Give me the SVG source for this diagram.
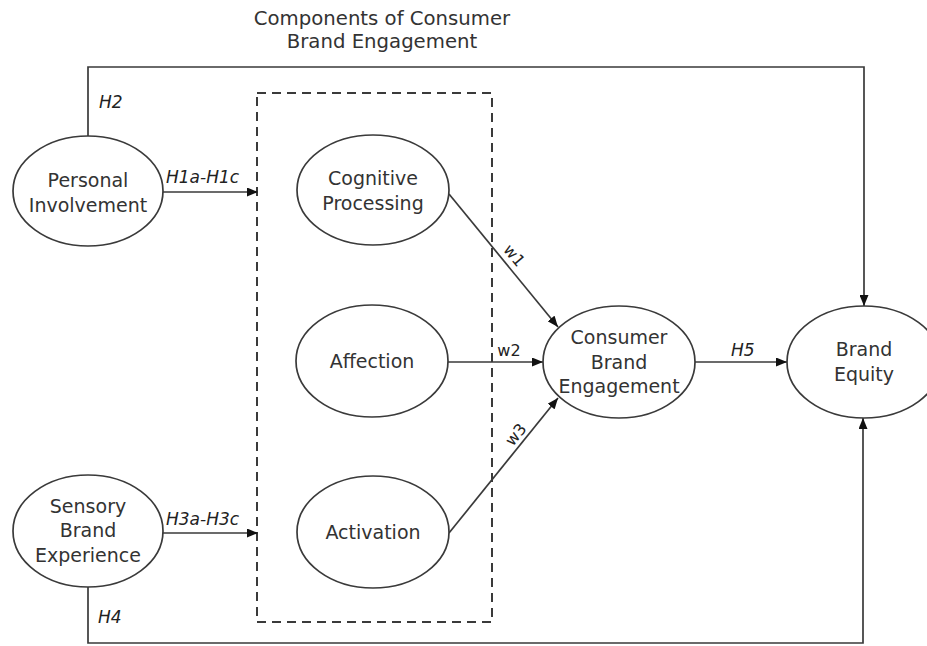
<svg xmlns="http://www.w3.org/2000/svg" width="927" height="646" viewBox="0 0 927 646">
<style>
.node ellipse{fill:#fff;stroke:#3a3a3a;stroke-width:1.7}
.node text,.title{font-family:"DejaVu Sans",Verdana,sans-serif;font-size:19px;fill:#333;text-anchor:middle}
.title{font-size:19.7px}
.conn{fill:none;stroke:#3a3a3a;stroke-width:1.7}
.lbl{font-family:"DejaVu Sans",sans-serif;font-size:17px;font-style:italic;fill:#222}
.w{font-family:"DejaVu Sans",sans-serif;font-size:16px;fill:#222;text-anchor:middle}
</style>
<defs>
<marker id="arr" markerUnits="userSpaceOnUse" markerWidth="11" markerHeight="9" refX="11" refY="4.5" orient="auto">
<path d="M0,0 L11,4.5 L0,9 z" fill="#111"/>
</marker>
</defs>
<rect width="927" height="646" fill="#fff"/>
<g id="title">
<text class="title" x="382" y="25">Components of Consumer</text>
<text class="title" x="382" y="48">Brand Engagement</text>
</g>
<g id="components-box">
<rect x="257" y="93" width="235" height="529" fill="none" stroke="#3a3a3a" stroke-width="2" stroke-dasharray="9,6"/>
</g>
<g id="connectors">
<path class="conn" d="M88,137 V67 H864 V306" marker-end="url(#arr)"/>
<path class="conn" d="M88,587 V643 H863 V418" marker-end="url(#arr)"/>
<path class="conn" d="M163,192 H258" marker-end="url(#arr)"/>
<path class="conn" d="M163,533 H258" marker-end="url(#arr)"/>
<path class="conn" d="M449,194 L558,327" marker-end="url(#arr)"/>
<path class="conn" d="M448,362 H543" marker-end="url(#arr)"/>
<path class="conn" d="M449,533 L558,398" marker-end="url(#arr)"/>
<path class="conn" d="M695,362 H787" marker-end="url(#arr)"/>
<text class="lbl" x="99" y="108">H2</text>
<text class="lbl" x="166" y="183">H1a-H1c</text>
<text class="lbl" x="166" y="525">H3a-H3c</text>
<text class="lbl" x="98" y="623">H4</text>
<text class="lbl" x="731" y="356">H5</text>
<text class="w" x="509" y="356">w2</text>
<text class="w" x="510" y="259" transform="rotate(50.5 510 259)">w1</text>
<text class="w" x="520" y="438" transform="rotate(-51 520 438)">w3</text>
</g>
<g id="personal-involvement" class="node">
<ellipse cx="88" cy="191" rx="75" ry="55"/>
<text x="88" y="187">Personal</text>
<text x="88" y="212">Involvement</text>
</g>
<g id="sensory-brand-experience" class="node">
<ellipse cx="88" cy="531" rx="75" ry="56"/>
<text x="88" y="513">Sensory</text>
<text x="88" y="537">Brand</text>
<text x="88" y="562">Experience</text>
</g>
<g id="cognitive-processing" class="node">
<ellipse cx="373" cy="190" rx="76" ry="55"/>
<text x="373" y="185">Cognitive</text>
<text x="373" y="210">Processing</text>
</g>
<g id="affection" class="node">
<ellipse cx="372" cy="361" rx="76" ry="56"/>
<text x="372" y="368">Affection</text>
</g>
<g id="activation" class="node">
<ellipse cx="373" cy="532" rx="76" ry="56"/>
<text x="373" y="539">Activation</text>
</g>
<g id="consumer-brand-engagement" class="node">
<ellipse cx="619" cy="362" rx="76" ry="56"/>
<text x="619" y="344">Consumer</text>
<text x="619" y="369">Brand</text>
<text x="619" y="393">Engagement</text>
</g>
<g id="brand-equity" class="node">
<ellipse cx="864" cy="362" rx="77" ry="56"/>
<text x="864" y="356">Brand</text>
<text x="864" y="381">Equity</text>
</g>
</svg>
